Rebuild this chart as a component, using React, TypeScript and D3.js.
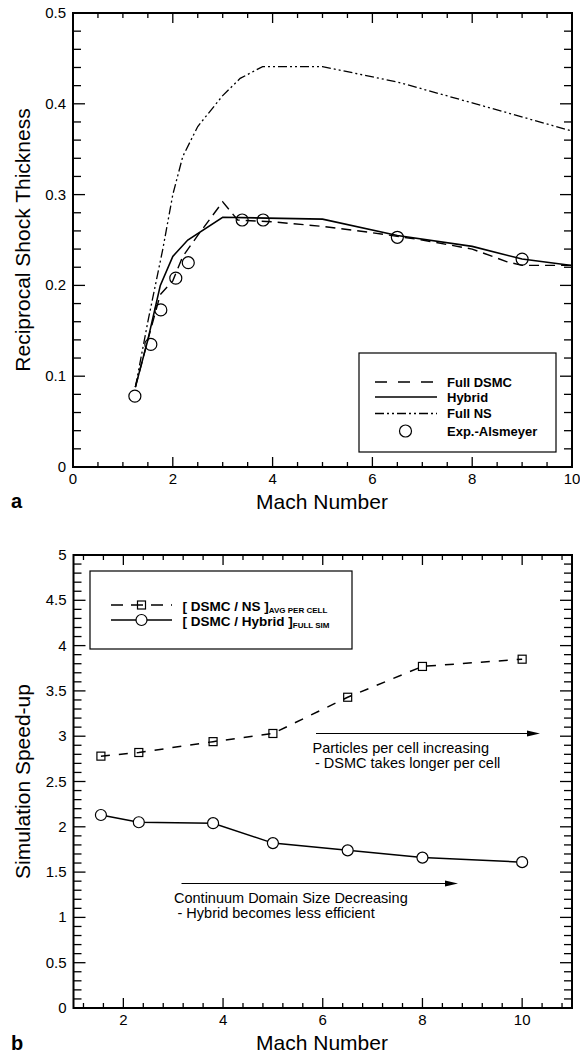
import React from "react";
import * as d3 from "d3";

// ---------- Data: panel a ----------
const fullDsmcX = [1.25, 1.5, 1.75, 2.0, 2.2, 2.5, 3.0, 3.3, 4.0, 5.0, 6.0, 7.0, 8.0, 8.7, 9.0, 10.0];
const fullDsmcY = [0.088, 0.14, 0.19, 0.205, 0.232, 0.255, 0.292, 0.272, 0.27, 0.265, 0.258, 0.25, 0.24, 0.226, 0.222, 0.222];
const hybridX = [1.25, 1.5, 1.75, 2.0, 2.3, 3.0, 5.0, 6.5, 8.0, 9.0, 10.0];
const hybridY = [0.088, 0.14, 0.2, 0.232, 0.25, 0.275, 0.273, 0.255, 0.243, 0.229, 0.222];
const fullNsX = [1.25, 1.5, 1.8, 2.0, 2.2, 2.5, 3.0, 3.35, 3.8, 5.0, 6.5, 8.0, 10.0];
const fullNsY = [0.088, 0.16, 0.24, 0.3, 0.342, 0.375, 0.409, 0.428, 0.441, 0.441, 0.424, 0.401, 0.37];
const expX = [1.24, 1.56, 1.76, 2.06, 2.31, 3.39, 3.81, 6.5, 9.0];
const expY = [0.078, 0.135, 0.173, 0.208, 0.225, 0.272, 0.272, 0.253, 0.229];
const aXTicks = [0, 2, 4, 6, 8, 10];
const aYTicks = [0, 0.1, 0.2, 0.3, 0.4, 0.5];
const aLegend = ["Full DSMC", "Hybrid", "Full NS", "Exp.-Alsmeyer"];

// ---------- Data: panel b ----------
const machB = [1.55, 2.31, 3.8, 5.0, 6.5, 8.0, 10.0];
const nsRatio = [2.78, 2.82, 2.94, 3.03, 3.43, 3.77, 3.85];
const hybridRatio = [2.13, 2.05, 2.04, 1.82, 1.74, 1.66, 1.61];
const bXTicks = [2, 4, 6, 8, 10];
const bYTicks = [0, 0.5, 1, 1.5, 2, 2.5, 3, 3.5, 4, 4.5, 5];

const FONT = "'Liberation Sans', Arial, Helvetica, sans-serif";

const xA = d3.scaleLinear().domain([0, 10]).range([73, 572]);
const yA = d3.scaleLinear().domain([0, 0.5]).range([467, 13]);
const xB = d3.scaleLinear().domain([1, 11]).range([73.5, 572]);
const yB = d3.scaleLinear().domain([0, 5]).range([1008, 555]);

type Scale = d3.ScaleLinear<number, number>;

function Frame({ x, y, xMajor, xMinorStep, yMajor, yMinorStep, xFmt, yFmt }: {
  x: Scale; y: Scale; xMajor: number[]; xMinorStep: number; yMajor: number[]; yMinorStep: number;
  xFmt: (v: number) => string; yFmt: (v: number) => string;
}) {
  const [x0, x1] = x.range();
  const [yb, yt] = y.range();
  const [dx0, dx1] = x.domain();
  const [dy0, dy1] = y.domain();
  const xMinor = d3.range(Math.ceil(dx0 / xMinorStep - 1e-6) * xMinorStep, dx1 + 1e-6, xMinorStep);
  const yMinor = d3.range(dy0, dy1 + 1e-6, yMinorStep);
  const isMaj = (arr: number[], v: number) => arr.some((m) => Math.abs(m - v) < 1e-6);
  const ticks: React.ReactNode[] = [];
  xMinor.forEach((v, i) => {
    const L = isMaj(xMajor, v) ? 10 : 5;
    const px = x(v);
    ticks.push(<line key={"xb" + i} x1={px} x2={px} y1={yb} y2={yb - L} />);
    ticks.push(<line key={"xt" + i} x1={px} x2={px} y1={yt} y2={yt + L} />);
  });
  yMinor.forEach((v, i) => {
    const L = isMaj(yMajor, v) ? 12 : 8;
    const py = y(v);
    ticks.push(<line key={"yl" + i} x1={x0} x2={x0 + L} y1={py} y2={py} />);
    ticks.push(<line key={"yr" + i} x1={x1} x2={x1 - L} y1={py} y2={py} />);
  });
  return (
    <g>
      <g stroke="#000" strokeWidth={1.3}>{ticks}</g>
      <rect x={x0} y={yt} width={x1 - x0} height={yb - yt} fill="none" stroke="#000" strokeWidth={2} />
      <g fontFamily={FONT} fontSize={15} fill="#000">
        {xMajor.map((v) => (
          <text key={"xl" + v} x={x(v)} y={yb + 17} textAnchor="middle">{xFmt(v)}</text>
        ))}
        {yMajor.map((v) => (
          <text key={"yl" + v} x={x0 - 7} y={y(v) + 5} textAnchor="end">{yFmt(v)}</text>
        ))}
      </g>
    </g>
  );
}

function Arrow({ x1, x2, y, }: { x1: number; x2: number; y: number }) {
  return (
    <g>
      <line x1={x1} x2={x2 - 8} y1={y} y2={y} stroke="#000" strokeWidth={1} />
      <path d={`M${x2},${y} L${x2 - 13},${y - 3} L${x2 - 13},${y + 3} Z`} fill="#000" />
    </g>
  );
}

export default function App() {
  const lineA = (xs: number[], ys: number[]) =>
    d3.line<number>().x((_, i) => xA(xs[i])).y((d) => yA(d))(ys) || "";
  const lineB = (ys: number[]) =>
    d3.line<number>().x((_, i) => xB(machB[i])).y((d) => yB(d))(ys) || "";

  const dashA = "10,6";
  const dashNs = "9,3,2,3,2,3";
  const dashB = "9,9";

  const legA = { x: 359, y: 353, w: 197, h: 99 };
  const legRowsY = [382, 397, 413.5, 431];

  return (
    <svg width={580} height={1055} style={{ position: "absolute", left: 0, top: 0, background: "#fff" }}>
      <rect x={0} y={0} width={580} height={1055} fill="#fff" />

      {/* ---------------- Panel a ---------------- */}
      <g fill="none" stroke="#000" strokeWidth={1.4}>
        <path d={lineA(fullNsX, fullNsY)} strokeDasharray={dashNs} strokeWidth={1.3} />
        <path d={lineA(fullDsmcX, fullDsmcY)} strokeDasharray={dashA} />
        <path d={lineA(hybridX, hybridY)} strokeWidth={1.6} />
        {expY.map((v, i) => (
          <circle key={i} cx={xA(expX[i])} cy={yA(v)} r={6} strokeWidth={1.2} />
        ))}
      </g>
      <Frame x={xA} y={yA} xMajor={aXTicks} xMinorStep={0.5} yMajor={aYTicks} yMinorStep={0.02}
        xFmt={(v) => String(v)} yFmt={(v) => String(+v.toFixed(1))} />

      {/* legend a */}
      <rect x={legA.x} y={legA.y} width={legA.w} height={legA.h} fill="#fff" stroke="#000" strokeWidth={1.2} />
      <g stroke="#000" fill="none">
        <line x1={375} x2={437} y1={legRowsY[0]} y2={legRowsY[0]} strokeDasharray="12,11" strokeWidth={1.5} />
        <line x1={375} x2={437} y1={legRowsY[1]} y2={legRowsY[1]} strokeWidth={1.6} />
        <line x1={375} x2={437} y1={legRowsY[2]} y2={legRowsY[2]} strokeDasharray={dashNs} strokeWidth={1.3} />
        <circle cx={405.5} cy={legRowsY[3]} r={6} strokeWidth={1.2} />
      </g>
      <g fontFamily={FONT} fontSize={13} fontWeight="bold" fill="#000">
        {aLegend.map((t, i) => (
          <text key={t} x={447} y={legRowsY[i] + 4.5}>{t}</text>
        ))}
      </g>

      <text x={322} y={509} textAnchor="middle" fontFamily={FONT} fontSize={21}>Mach Number</text>
      <text transform={`translate(30,${(467 + 13) / 2}) rotate(-90)`} textAnchor="middle" fontFamily={FONT} fontSize={21}>
        Reciprocal Shock Thickness
      </text>
      <text x={11} y={508} fontFamily={FONT} fontSize={20} fontWeight="bold">a</text>

      {/* ---------------- Panel b ---------------- */}
      <g fill="none" stroke="#000">
        <path d={lineB(nsRatio)} strokeDasharray={dashB} strokeWidth={1.5} />
        <path d={lineB(hybridRatio)} strokeWidth={1.5} />
        {nsRatio.map((v, i) => (
          <rect key={"s" + i} x={xB(machB[i]) - 4} y={yB(v) - 4} width={8} height={8} strokeWidth={1.2} />
        ))}
        {hybridRatio.map((v, i) => (
          <circle key={"c" + i} cx={xB(machB[i])} cy={yB(v)} r={5.5} fill="#fff" strokeWidth={1.2} />
        ))}
      </g>
      <Frame x={xB} y={yB} xMajor={bXTicks} xMinorStep={0.4} yMajor={bYTicks} yMinorStep={0.1}
        xFmt={(v) => String(v)} yFmt={(v) => String(+v.toFixed(1))} />

      {/* legend b */}
      <rect x={90} y={571} width={262} height={78} fill="#fff" stroke="#000" strokeWidth={1.2} />
      <g stroke="#000" fill="none">
        <line x1={111} x2={172} y1={605} y2={605} strokeDasharray="12,8" strokeWidth={1.5} />
        <rect x={137.5} y={601} width={8} height={8} strokeWidth={1.2} />
        <line x1={111} x2={172} y1={620} y2={620} strokeWidth={1.5} />
        <circle cx={141.5} cy={620} r={5.5} fill="#fff" strokeWidth={1.2} />
      </g>
      <g fontFamily={FONT} fontWeight="bold" fill="#000">
        <text x={182.5} y={610.5} fontSize={13.5}>
          [ DSMC / NS ]<tspan fontSize={8} dy={2}>AVG PER CELL</tspan>
        </text>
        <text x={182.5} y={625.5} fontSize={13.5}>
          [ DSMC / Hybrid ]<tspan fontSize={8} dy={2}>FULL SIM</tspan>
        </text>
      </g>

      {/* annotations */}
      <Arrow x1={316} x2={540} y={733.5} />
      <g fontFamily={FONT} fontSize={14.5} fill="#000">
        <text x={312.5} y={753}>Particles per cell increasing</text>
        <text x={315} y={768}> - DSMC takes longer per cell</text>
      </g>
      <Arrow x1={181.5} x2={458} y={883.5} />
      <g fontFamily={FONT} fontSize={14.5} fill="#000">
        <text x={174} y={903}>Continuum Domain Size Decreasing</text>
        <text x={177.5} y={918}>- Hybrid becomes less efficient</text>
      </g>

      <text x={322} y={1050} textAnchor="middle" fontFamily={FONT} fontSize={21}>Mach Number</text>
      <text transform={`translate(30,${(1008 + 555) / 2}) rotate(-90)`} textAnchor="middle" fontFamily={FONT} fontSize={21}>
        Simulation Speed-up
      </text>
      <text x={11} y={1050} fontFamily={FONT} fontSize={20} fontWeight="bold">b</text>
    </svg>
  );
}
